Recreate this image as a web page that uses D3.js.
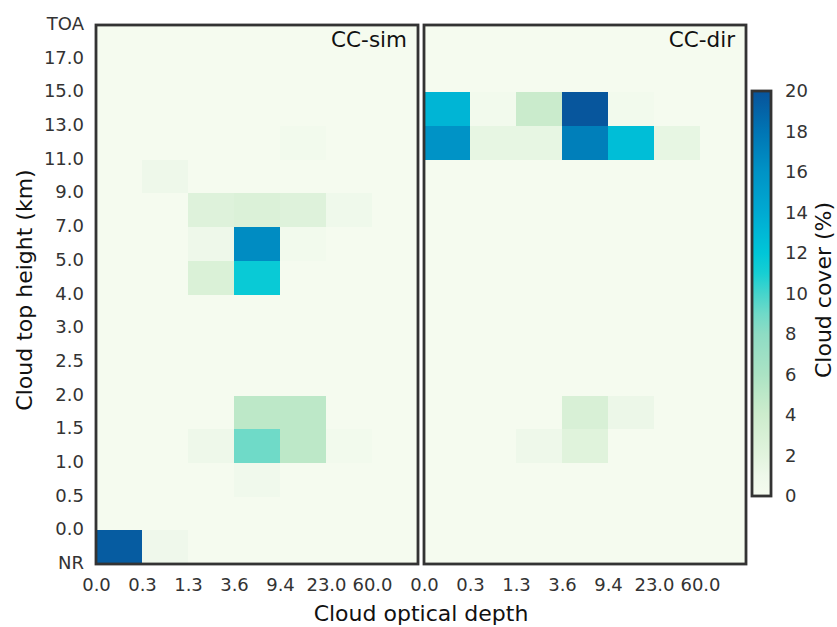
<!DOCTYPE html>
<html>
<head>
<meta charset="utf-8">
<script src="https://cdn.jsdelivr.net/npm/d3@7"></script>
<style>
  body { margin: 0; background: #fff; }
  text { font-family: "DejaVu Sans", sans-serif; }
</style>
</head>
<body>
<div id="chart"></div>
<script>
// bin edges along each axis
var heightLabels = ["NR", "0.0", "0.5", "1.0", "1.5", "2.0", "2.5", "3.0", "4.0",
                    "5.0", "7.0", "9.0", "11.0", "13.0", "15.0", "17.0", "TOA"];
var tauLabels = ["0.0", "0.3", "1.3", "3.6", "9.4", "23.0", "60.0"];
var panelNames = ["CC-sim", "CC-dir"];

// cloud cover (%) per cell, rows listed from the top (17-TOA) down to the bottom (NR-0.0)
var simValues = [
  [0, 0, 0, 0, 0, 0, 0],
  [0, 0, 0, 0, 0, 0, 0],
  [0, 0, 0, 0, 0, 0, 0],
  [0, 0, 0, 0, 0.4, 0, 0],
  [0, 1.0, 0, 0, 0, 0, 0],
  [0, 0, 2.4, 2.7, 2.4, 0.8, 0],
  [0, 0, 1.0, 16.5, 0.4, 0, 0],
  [0, 0, 2.8, 11.6, 0, 0, 0],
  [0, 0, 0, 0, 0, 0, 0],
  [0, 0, 0, 0, 0, 0, 0],
  [0, 0, 0, 0, 0, 0, 0],
  [0, 0, 0, 5.0, 5.0, 0, 0],
  [0, 0, 1.0, 9.0, 5.0, 0.4, 0],
  [0, 0, 0, 0.7, 0, 0, 0],
  [0, 0, 0, 0, 0, 0, 0],
  [19.5, 0.9, 0, 0, 0, 0, 0]
];
var dirValues = [
  [0, 0, 0, 0, 0, 0, 0],
  [0, 0, 0, 0, 0, 0, 0],
  [13.2, 0.5, 4.2, 19.8, 0.5, 0, 0],
  [16.0, 1.6, 1.6, 17.3, 12.6, 1.6, 0],
  [0, 0, 0, 0, 0, 0, 0],
  [0, 0, 0, 0, 0, 0, 0],
  [0, 0, 0, 0, 0, 0, 0],
  [0, 0, 0, 0, 0, 0, 0],
  [0, 0, 0, 0, 0, 0, 0],
  [0, 0, 0, 0, 0, 0, 0],
  [0, 0, 0, 0, 0, 0, 0],
  [0, 0, 0, 3.0, 1.2, 0, 0],
  [0, 0, 1.0, 2.2, 0, 0, 0],
  [0, 0, 0, 0, 0, 0, 0],
  [0, 0, 0, 0, 0, 0, 0],
  [0, 0, 0, 0, 0, 0, 0]
];
var colorbarTicks = [0, 2, 4, 6, 8, 10, 12, 14, 16, 18, 20];

// colormap stops (value -> colour)
var cmapStops = [0, 1, 2, 4, 5, 6, 8, 9, 10, 11, 12, 13, 14, 16, 18, 20];
var cmapColors = ["#f5fbef", "#eef8ea", "#e2f4de", "#cdeccd", "#bde8c8", "#abe3c4",
                  "#8edcc4", "#6fdac8", "#45d4cc", "#16cfd3", "#00c6d8", "#00b8d6",
                  "#00aad2", "#0093c6", "#0075b4", "#08539a"];

var width = 837, height = 627;
var svg = d3.select("#chart")
  .append("svg")
    .attr("width", width)
    .attr("height", height);

var color = d3.scaleLinear()
  .domain(cmapStops)
  .range(cmapColors)
  .clamp(true);

var nRows = heightLabels.length - 1, nCols = tauLabels.length;

var y = d3.scaleLinear()
  .domain([0, nRows])
  .range([564, 25]);

var panelX = [[96, 418], [424, 746]];
var tickColor = "#333";

[simValues, dirValues].forEach(function(values, p) {
  var x = d3.scaleLinear()
    .domain([0, nCols])
    .range(panelX[p]);

  var g = svg.append("g");

  // flatten the matrix into cells
  var cells = [];
  values.forEach(function(row, i) {
    row.forEach(function(v, j) {
      cells.push({row: nRows - 1 - i, col: j, value: v});
    });
  });

  g.append("rect")
    .attr("x", x(0)).attr("y", y(nRows))
    .attr("width", x(nCols) - x(0)).attr("height", y(0) - y(nRows))
    .style("fill", color(0));

  g.selectAll()
    .data(cells)
    .enter()
    .append("rect")
      .attr("x", function(d) { return x(d.col); })
      .attr("y", function(d) { return y(d.row + 1); })
      .attr("width", function(d) { return x(d.col + 1) - x(d.col); })
      .attr("height", function(d) { return y(d.row) - y(d.row + 1); })
      .attr("shape-rendering", "crispEdges")
      .style("fill", function(d) { return color(d.value); });

  // frame
  g.append("rect")
    .attr("x", x(0)).attr("y", y(nRows))
    .attr("width", x(nCols) - x(0)).attr("height", y(0) - y(nRows))
    .style("fill", "none")
    .style("stroke", "#333")
    .style("stroke-width", 2.8);

  // x axis
  var xAxis = g.append("g")
    .attr("transform", "translate(0," + y(0) + ")")
    .call(d3.axisBottom(x)
      .tickValues(d3.range(nCols))
      .tickSize(0)
      .tickPadding(14)
      .tickFormat(function(d) { return tauLabels[d]; }));
  xAxis.select(".domain").remove();
  xAxis.selectAll("text")
    .style("font-size", "18px")
    .style("fill", tickColor);

  // y axis only on the left panel
  if (p == 0) {
    var yAxis = g.append("g")
      .attr("transform", "translate(" + x(0) + ",0)")
      .call(d3.axisLeft(y)
        .tickValues(d3.range(nRows + 1))
        .tickSize(0)
        .tickPadding(12)
        .tickFormat(function(d) { return heightLabels[d]; }));
    yAxis.select(".domain").remove();
    yAxis.selectAll("text")
      .style("font-size", "18px")
      .style("fill", tickColor)
      .attr("dy", "0.25em");
  }

  // panel name
  g.append("text")
    .attr("x", x(nCols) - 11)
    .attr("y", y(nRows) + 22)
    .attr("text-anchor", "end")
    .style("font-size", "21.5px")
    .style("fill", "#111")
    .text(panelNames[p]);
});

// axis titles
svg.append("text")
  .attr("x", 421)
  .attr("y", 621)
  .attr("text-anchor", "middle")
  .style("font-size", "22px")
  .style("fill", "#111")
  .text("Cloud optical depth");

svg.append("text")
  .attr("transform", "translate(32,290) rotate(-90)")
  .attr("text-anchor", "middle")
  .style("font-size", "22px")
  .style("fill", "#111")
  .text("Cloud top height (km)");

// colorbar
var cbX = 752, cbW = 19;
var cbY = d3.scaleLinear()
  .domain([0, 20])
  .range([496, 91]);

var defs = svg.append("defs");
var grad = defs.append("linearGradient")
  .attr("id", "cbgrad")
  .attr("x1", 0).attr("y1", 1).attr("x2", 0).attr("y2", 0);
cmapStops.forEach(function(v, i) {
  grad.append("stop")
    .attr("offset", (v / 20 * 100) + "%")
    .attr("stop-color", cmapColors[i]);
});

svg.append("rect")
  .attr("x", cbX).attr("y", cbY(20))
  .attr("width", cbW).attr("height", cbY(0) - cbY(20))
  .style("fill", "url(#cbgrad)")
  .style("stroke", "#333")
  .style("stroke-width", 2.8);

var cbAxis = svg.append("g")
  .attr("transform", "translate(" + (cbX + cbW) + ",0)")
  .call(d3.axisRight(cbY)
    .tickValues(colorbarTicks)
    .tickSize(0)
    .tickPadding(14));
cbAxis.select(".domain").remove();
cbAxis.selectAll("text")
  .style("font-size", "18px")
  .style("fill", tickColor);

svg.append("text")
  .attr("transform", "translate(831,290) rotate(-90)")
  .attr("text-anchor", "middle")
  .style("font-size", "22px")
  .style("fill", "#111")
  .text("Cloud cover (%)");
</script>
</body>
</html>
